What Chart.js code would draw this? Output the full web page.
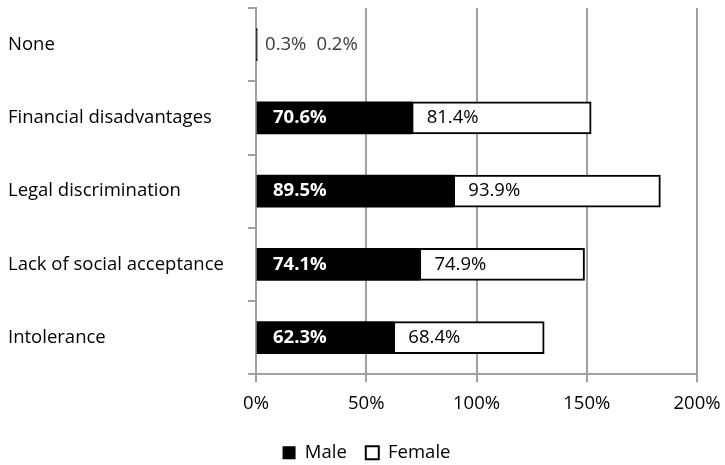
<!DOCTYPE html>
<html>
<head>
<meta charset="utf-8">
<script src="https://cdn.jsdelivr.net/npm/chart.js@4/dist/chart.umd.min.js"></script>
<style>
html,body{margin:0;padding:0;background:#fff;}
#wrap{width:725px;height:465px;position:relative;}
</style>
</head>
<body>
<div id="wrap"><canvas id="c" width="725" height="465"></canvas></div>
<script>
const categories = ["None", "Financial disadvantages", "Legal discrimination", "Lack of social acceptance", "Intolerance"];
const maleValues = [0.3, 70.6, 89.5, 74.1, 62.3];
const femaleValues = [0.2, 81.4, 93.9, 74.9, 68.4];
const seriesNames = ["Male", "Female"];
const xMin = 0, xMax = 200, xStep = 50;

const FONT = "'Open Sans', sans-serif";
const FS = 18.5;

const labelPlugin = {
  id: 'barLabels',
  afterDatasetsDraw(chart) {
    const ctx = chart.ctx;
    ctx.save();
    ctx.textBaseline = 'middle';
    ctx.textAlign = 'left';
    const m0 = chart.getDatasetMeta(0), m1 = chart.getDatasetMeta(1);
    const ds = chart.data.datasets;
    for (let i = 0; i < categories.length; i++) {
      const b0 = m0.data[i], b1 = m1.data[i];
      const v0 = ds[0].data[i], v1 = ds[1].data[i];
      const t0 = v0.toFixed(1) + '%', t1 = v1.toFixed(1) + '%';
      if (v0 + v1 < 10) {
        ctx.font = FS + "px " + FONT;
        ctx.fillStyle = '#3a3a3a';
        const x0 = Math.max(b0.x, b1.x) + 8;
        ctx.fillText(t0, x0, b0.y);
        const w = ctx.measureText(t0).width;
        ctx.fillText(t1, x0 + w + 10, b1.y);
      } else {
        ctx.font = "bold " + FS + "px " + FONT;
        ctx.fillStyle = '#ffffff';
        ctx.fillText(t0, Math.min(b0.base, b0.x) + 16, b0.y);
        ctx.font = FS + "px " + FONT;
        ctx.fillStyle = '#000000';
        ctx.fillText(t1, Math.min(b1.base, b1.x) + 15, b1.y);
      }
    }
    ctx.restore();
  }
};

new Chart(document.getElementById('c'), {
  type: 'bar',
  data: {
    labels: categories,
    datasets: [
      { label: seriesNames[0], data: maleValues, backgroundColor: '#000000', borderColor: '#000000', borderWidth: 0, barThickness: 32 },
      { label: seriesNames[1], data: femaleValues, backgroundColor: '#ffffff', borderColor: '#000000', borderWidth: 2, borderSkipped: false, barThickness: 32 }
    ]
  },
  options: {
    indexAxis: 'y',
    responsive: false,
    animation: false,
    devicePixelRatio: 1,
    layout: { padding: { left: 8, right: 0, top: 8, bottom: -7 } },
    scales: {
      x: {
        stacked: true,
        min: xMin, max: xMax,
        ticks: { stepSize: xStep, color: '#000', font: { family: FONT, size: FS }, padding: 10, callback: v => v + '%' },
        grid: { color: '#a0a0a0', lineWidth: 2, tickLength: 8, drawTicks: true },
        border: { display: true, color: '#a0a0a0', width: 2 },
        afterFit(scale) { scale.paddingLeft = 0; scale.paddingRight = 28; }
      },
      y: {
        stacked: true,
        ticks: { color: '#000', font: { family: FONT, size: FS }, crossAlign: 'far', padding: 6 },
        grid: { drawOnChartArea: false, color: '#a0a0a0', lineWidth: 2, tickLength: 8, offset: true },
        border: { display: true, color: '#a0a0a0', width: 2 },
        afterFit(scale) { scale.width = 248; scale.paddingTop = 0; scale.paddingBottom = 0; }
      }
    },
    plugins: {
      legend: {
        position: 'bottom',
        labels: { color: '#000', font: { family: FONT, size: FS }, boxWidth: 13, boxHeight: 13, padding: 19 }
      },
      tooltip: { enabled: false }
    }
  },
  plugins: [labelPlugin]
});
</script>
</body>
</html>
